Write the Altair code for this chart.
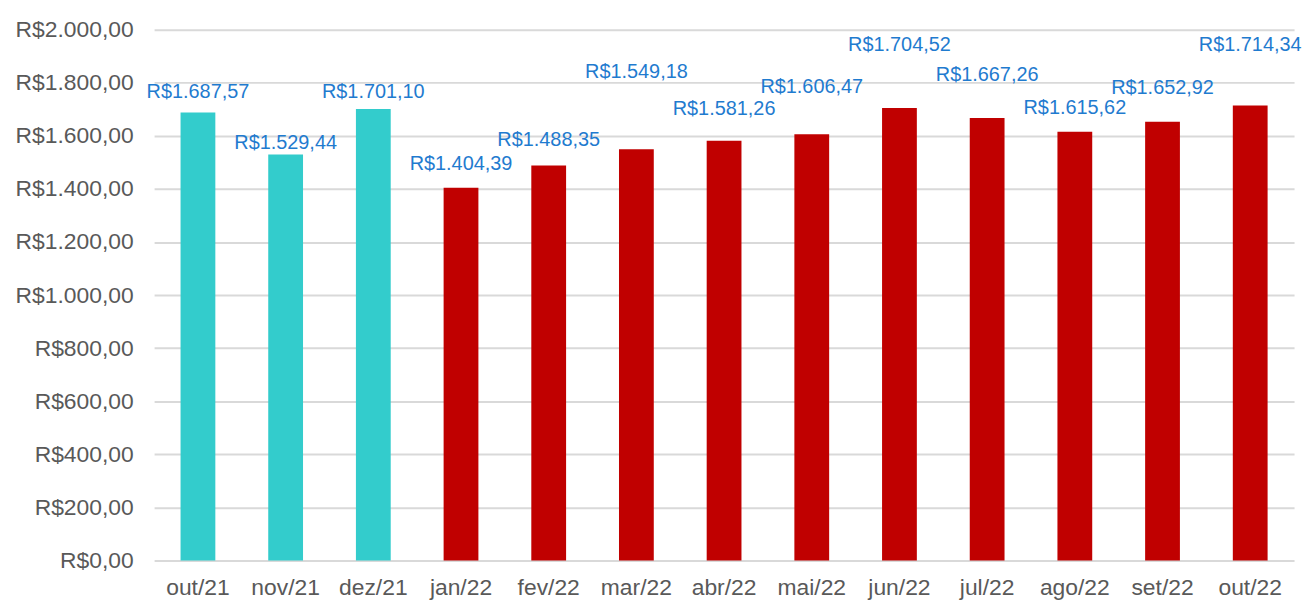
import altair as alt
import pandas as pd

# ---- data ----
months = ["out/21", "nov/21", "dez/21", "jan/22", "fev/22", "mar/22", "abr/22",
          "mai/22", "jun/22", "jul/22", "ago/22", "set/22", "out/22"]
values = [1687.57, 1529.44, 1701.10, 1404.39, 1488.35, 1549.18, 1581.26,
          1606.47, 1704.52, 1667.26, 1615.62, 1652.92, 1714.34]
groups = ["2021", "2021", "2021"] + ["2022"] * 10
y_ticks = [0, 200, 400, 600, 800, 1000, 1200, 1400, 1600, 1800, 2000]

# ---- layout: where each data label sits (in axis units) ----
label_y = [1764, 1573, 1764, 1494, 1584, 1839, 1700, 1783, 1944, 1828, 1704, 1779, 1944]


def brl(v):
    s = f"{v:,.2f}".replace(",", "#").replace(".", ",").replace("#", ".")
    return "R$" + s


df = pd.DataFrame({
    "mes": months,
    "valor": values,
    "grupo": groups,
    "rotulo": [brl(v) for v in values],
    "label_y": label_y,
})

FONT = "Liberation Sans"

x_enc = alt.X("mes:N", sort=months, title=None,
              scale=alt.Scale(paddingInner=0, paddingOuter=0),
              axis=alt.Axis(labelAngle=0, ticks=False, domain=False,
                            labelFont=FONT, labelFontSize=23, labelColor="#595959",
                            labelPadding=16, grid=False))

y_scale = alt.Scale(domain=[0, 2000], nice=False)

bars = alt.Chart(df).mark_bar(size=35).encode(
    x=x_enc,
    y=alt.Y("valor:Q", scale=y_scale, title=None,
            axis=alt.Axis(values=y_ticks, ticks=False, domain=False,
                          labelFont=FONT, labelFontSize=23, labelColor="#595959",
                          labelPadding=21, gridColor="#d9d9d9", gridWidth=2,
                          labelExpr="'R$' + replace(replace(replace(format(datum.value, ',.2f'), ',', '#'), '.', ','), '#', '.')")),
    color=alt.Color("grupo:N", scale=alt.Scale(domain=["2021", "2022"],
                                               range=["#33CCCC", "#C00000"]),
                    legend=None),
)

labels = alt.Chart(df).mark_text(font=FONT, fontSize=20, color="#1F7BCF",
                                 baseline="middle", align="center").encode(
    x=alt.X("mes:N", sort=months),
    y=alt.Y("label_y:Q", scale=y_scale),
    text="rotulo:N",
)

chart = alt.layer(bars, labels).properties(
    width=1147,
    height=534,
    autosize=alt.AutoSizeParams(type="none"),
    padding={"left": 147, "top": 20, "right": 9, "bottom": 40},
).configure(background="white").configure_view(stroke=None)

chart.save("out.html", embed_options={"renderer": "svg", "actions": False})
